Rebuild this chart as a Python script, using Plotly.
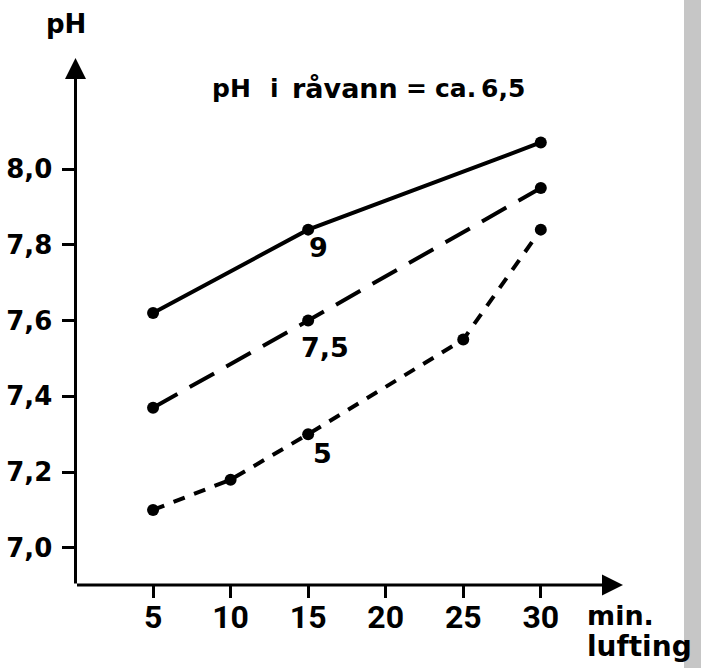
import plotly.graph_objects as go

# Data (minutes of aeration vs pH, for three doses)
minutes_9 = [5, 15, 30]
ph_9 = [7.62, 7.84, 8.07]
minutes_75 = [5, 15, 30]
ph_75 = [7.37, 7.60, 7.95]
minutes_5 = [5, 10, 15, 25, 30]
ph_5 = [7.10, 7.18, 7.30, 7.55, 7.84]

x_ticks = [5, 10, 15, 20, 25, 30]
x_ticktext = ["5", "10", "15", "20", "25", "30"]
y_ticks = [7.0, 7.2, 7.4, 7.6, 7.8, 8.0]
y_ticktext = ["7,0", "7,2", "7,4", "7,6", "7,8", "8,0"]

W, H = 701, 668
X0, X1 = 0, 35.3
Y0, Y1 = 6.902, 8.293
FONT = "DejaVu Sans"
XFONT = "Roboto, Liberation Sans, DejaVu Sans"

fig = go.Figure()
mk = dict(size=12, color="black")
fig.add_trace(go.Scatter(x=minutes_9, y=ph_9, mode="lines+markers",
                         line=dict(color="black", width=4), marker=mk))
fig.add_trace(go.Scatter(x=minutes_75, y=ph_75, mode="lines+markers",
                         line=dict(color="black", width=4, dash="28px,14px"), marker=mk))
fig.add_trace(go.Scatter(x=minutes_5, y=ph_5, mode="lines+markers",
                         line=dict(color="black", width=4, dash="12px,10px"), marker=mk))

ann = []
# axis arrows
ann.append(dict(x=X1, y=Y0, ax=X0, ay=Y0, xref="x", yref="y", axref="x", ayref="y",
                showarrow=True, arrowhead=2, arrowsize=1.4, arrowwidth=3,
                arrowcolor="black", standoff=0, startstandoff=0, text=""))
ann.append(dict(x=X0, y=Y1, ax=X0, ay=Y0, xref="x", yref="y", axref="x", ayref="y",
                showarrow=True, arrowhead=2, arrowsize=1.4, arrowwidth=3,
                arrowcolor="black", standoff=0, startstandoff=0, text=""))
lab_font = dict(size=27, family=FONT, color="black", weight="bold")
# series labels
ann.append(dict(x=15.65, y=7.794, text="9", showarrow=False, xref="x", yref="y", font=lab_font))
ann.append(dict(x=16.1, y=7.53, text="7,5", showarrow=False, xref="x", yref="y", font=lab_font))
ann.append(dict(x=15.9, y=7.25, text="5", showarrow=False, xref="x", yref="y", font=lab_font))

# note text, word by word
note_words = ["pH", "i", "råvann", "=", "ca.", "6,5"]
note_left_px = [210, 268, 290, 404, 433, 479]
note_sizes = [25, 25, 27, 25, 25, 25]
for word, px, sz in zip(note_words, note_left_px, note_sizes):
    ann.append(dict(x=px / W, y=1 - 88 / H, text=word, showarrow=False,
                    xref="paper", yref="paper", xanchor="left", yanchor="middle",
                    font=dict(size=sz, family=FONT, color="black", weight="bold")))

ann.append(dict(x=66 / W, y=1 - 24 / H, text="pH", showarrow=False,
                xref="paper", yref="paper", xanchor="center", yanchor="middle",
                font=dict(size=26, family=FONT, color="black", weight="bold")))
ann.append(dict(x=585 / W, y=1 - 615 / H, text="min.", showarrow=False,
                xref="paper", yref="paper", xanchor="left", yanchor="middle",
                font=dict(size=27, family=FONT, color="black", weight="bold")))
ann.append(dict(x=585 / W, y=1 - 646 / H, text="lufting", showarrow=False,
                xref="paper", yref="paper", xanchor="left", yanchor="middle",
                font=dict(size=28, family=FONT, color="black", weight="bold")))

fig.update_layout(
    width=W, height=H,
    margin=dict(l=0, r=0, t=0, b=0),
    paper_bgcolor="white", plot_bgcolor="white",
    showlegend=False,
    annotations=ann,
    shapes=[dict(type="rect", xref="paper", yref="paper", x0=684 / W, x1=1, y0=0, y1=1,
                 fillcolor="#c6c6c6", line=dict(width=0), layer="below")],
    xaxis=dict(domain=[75.5 / W, 623 / W], range=[X0, X1], showgrid=False, zeroline=False,
               showline=False, tickvals=x_ticks, ticktext=x_ticktext, ticks="outside",
               ticklen=12, tickwidth=3, tickcolor="black", ticklabelstandoff=-8,
               tickfont=dict(size=32, family=XFONT, color="black", weight="bold")),
    yaxis=dict(domain=[1 - 585 / H, 1 - 58 / H], range=[Y0, Y1], showgrid=False, zeroline=False,
               showline=False, tickvals=y_ticks, ticktext=y_ticktext, ticks="outside",
               ticklen=13, tickwidth=3, tickcolor="black", ticklabelstandoff=4,
               tickfont=dict(size=26, family=FONT, color="black", weight="bold")),
)

fig.write_html("out.html", config={"displayModeBar": False},
               post_script="document.body.style.margin='0';document.body.style.padding='0';")
